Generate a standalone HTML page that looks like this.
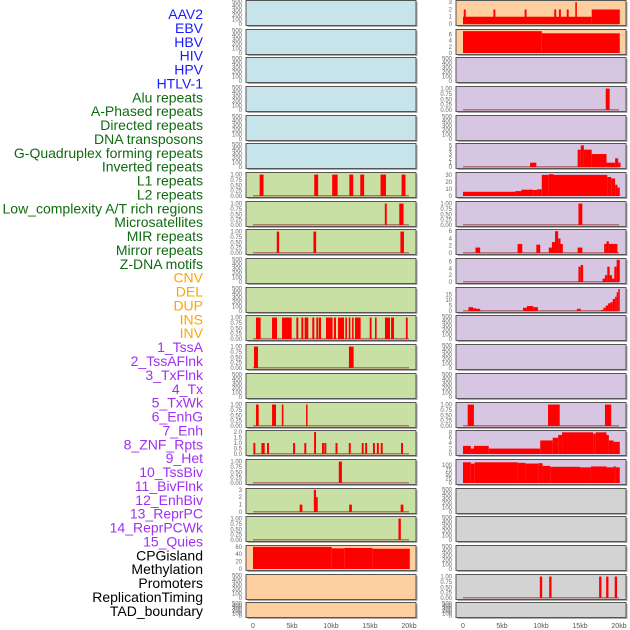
<!DOCTYPE html>
<html><head><meta charset="utf-8">
<style>
html,body{margin:0;padding:0;background:#fff;}
svg{display:block;font-family:"Liberation Sans",sans-serif;}
</style></head>
<body>
<svg id="chart" width="630" height="630" viewBox="0 0 630 630" xmlns="http://www.w3.org/2000/svg"></svg>
<script>
// ---- labels ----
const trackLabels = ["AAV2","EBV","HBV","HIV","HPV","HTLV-1","Alu repeats","A-Phased repeats","Directed repeats","DNA transposons","G-Quadruplex forming repeats","Inverted repeats","L1 repeats","L2 repeats","Low_complexity A/T rich regions","Microsatellites","MIR repeats","Mirror repeats","Z-DNA motifs","CNV","DEL","DUP","INS","INV","1_TssA","2_TssAFlnk","3_TxFlnk","4_Tx","5_TxWk","6_EnhG","7_Enh","8_ZNF_Rpts","9_Het","10_TssBiv","11_BivFlnk","12_EnhBiv","13_ReprPC","14_ReprPCWk","15_Quies","CPGisland","Methylation","Promoters","ReplicationTiming","TAD_boundary"];
const labelGroups = [6,13,5,15,5];
const xTickValues = [0,5,10,15,20];
const xTickLabels = ["0","5kb","10kb","15kb","20kb"];

// ---- left column data (kb) ----
const L6_starts = [0.85,7.85,10.15,12.35,13.75,16.35,19.05];
const L6_ends   = [1.35,8.35,10.85,12.85,14.25,17.05,19.55];
const L6_vals   = [1,1,1,1,1,1,1];
const L7_starts = [16.9,18.75];
const L7_ends   = [17.15,19.3];
const L7_vals   = [1,1];
const L8_starts = [3.05,7.75,18.9];
const L8_ends   = [3.35,8.1,19.35];
const L8_vals   = [1,1,1];
const L11_starts = [0.38,2.44,3.72,5.56,6.2,6.62,7.6,8.12,8.46,9.36,10.38,10.9,11.84,12.27,12.7,13.08,14.96,15.64,16.92,17.7,19.6];
const L11_ends   = [0.98,3.08,4.96,5.81,6.45,7.09,7.86,8.38,8.72,10.2,10.64,11.67,12.05,12.48,12.9,13.8,15.2,15.85,17.56,18.08,19.83];
const L11_vals   = [1,1,1,1,1,1,1,1,1,1,1,1,1,1,1,1,1,1,1,1,1];
const L12_starts = [0.13,12.3];
const L12_ends   = [0.64,12.9];
const L12_vals   = [1,1];
const L14_starts = [0.38,2.44,3.7,6.8];
const L14_ends   = [0.73,2.95,3.9,6.96];
const L14_vals   = [1,1,1,1];
const L15_starts = [0.05,1.08,1.25,1.8,5.14,6.58,7.83,8.85,9.15,10.58,12.28,13.94,14.38,15.38,15.88,16.38,18.98];
const L15_ends   = [0.3,1.32,1.5,2.05,5.4,6.83,8.08,9.1,9.4,10.83,12.53,14.19,14.63,15.63,16.13,16.63,19.23];
const L15_vals   = [1,1,1,1,1,1,2,1,1,1,1,1,1,1,1,1,1];
const L16_starts = [11.0];
const L16_ends   = [11.4];
const L16_vals   = [1];
const L17_starts = [5.98,7.8,8.08,12.33,18.93];
const L17_ends   = [6.33,8.08,8.3,12.68,19.28];
const L17_vals   = [1,3,2,1,1];
const L18_starts = [18.65];
const L18_ends   = [18.95];
const L18_vals   = [1];
const L19_starts = [0,10.1,11.7,15.3];
const L19_ends   = [10.1,11.7,15.3,20.1];
const L19_vals   = [60,56,57,55];

// ---- right column data (kb) ----
const R0_starts = [0,16.5,0.1,3.9,7.9,11.7,12.3,13.3,14.4];
const R0_ends   = [16.5,20.1,0.35,4.15,8.15,11.95,12.55,13.55,14.6];
const R0_vals   = [1,2,2,2,2,2,2,2,3];
const R1_starts = [0,10.1];
const R1_ends   = [10.1,20.1];
const R1_vals   = [7,6.3];
const R3_starts = [18.3];
const R3_ends   = [18.8];
const R3_vals   = [1];
const R5_starts = [8.6,14.7,15.1,15.5,16.5,18.4,19.5,19.9];
const R5_ends   = [9.4,15.1,15.5,16.5,18.4,19.5,19.9,20.2];
const R5_vals   = [1,4,5,4,3,1,2,1];
const R6_starts = [0,6.7,7.5,9,9.5,10.1,11,11.6,18.5,19,19.5,19.8];
const R6_ends   = [6.7,7.5,9,9.5,10.1,11,11.6,18.5,19,19.5,19.8,20.1];
const R6_vals   = [6,7,9,8.5,9.5,30,31,30,27,25,16,12];
const R7_starts = [14.8];
const R7_ends   = [15.3];
const R7_vals   = [1];
const R8_starts = [1.6,7,9.4,11,11.4,11.8,12.2,12.5,14.7,18.1,18.4,18.7];
const R8_ends   = [2.2,7.6,9.9,11.4,11.8,12.2,12.5,12.8,15.3,18.4,18.7,19.8];
const R8_vals   = [1.5,2.5,2.3,1.5,3,6,4,2.5,1.5,2.5,3.2,2.5];
const R9_starts = [14.8,15.1,17.9,18.2,18.5,18.8,19.1,19.4,19.7];
const R9_ends   = [15.1,15.4,18.2,18.5,18.8,19.1,19.4,19.7,20.1];
const R9_vals   = [4.5,5,1,2,4.5,2,1,4.5,6.5];
const R10_starts = [0.7,1.3,1.7,7.7,8.2,9,14.6,17.7,18,18.3,18.6,18.9,19.2,19.5,19.7,19.9];
const R10_ends   = [1.3,1.7,2.2,8.2,9,9.6,15.1,18,18.3,18.6,18.9,19.2,19.5,19.7,19.9,20.1];
const R10_vals   = [3.5,2.5,2,3,4.5,3.5,2,1,3,5,7,8,11,13,17,20];
const R14_starts = [0.6,10.9,18.2];
const R14_ends   = [1.4,12.4,19];
const R14_vals   = [1,1,1];
const R15_starts = [0,1,1.4,3.3,9.9,11.5,12.2,12.7,16.7,17,18.4,18.7,19.3];
const R15_ends   = [1,1.4,3.3,9.9,11.5,12.2,12.7,16.7,17,18.4,18.7,19.3,20.1];
const R15_vals   = [3,2,3,2,5,6,7,8,7.5,8,7,5,4.5];
const R16_starts = [0,1,1.5,7,8,9.7,10.2,11.2,15,16.4,18.4,19.3,19.6];
const R16_ends   = [1,1.5,7,8,9.7,10.2,11.2,15,16.4,18.4,19.3,19.6,20.1];
const R16_vals   = [115,108,115,112,108,110,95,90,87,92,87,92,87];
const R20_starts = [9.85,11.05,17.45,18.35,19.45];
const R20_ends   = [10.15,11.35,17.75,18.65,19.75];
const R20_vals   = [1,1,1,1,1];

const T_EMPTY = ["0","100","200","300","400","500"];
const T_UNIT = ["0.00","0.25","0.50","0.75","1.00"];

const C = {blue:"#c8e4eb",green:"#c9e0a5",orange:"#fecf9e",purple:"#d6c6e2",grey:"#d3d3d3"};
const leftBg = ["blue","blue","blue","blue","blue","blue","green","green","green","green","green","green","green","green","green","green","green","green","green","orange","orange","orange"];
const rightBg = ["orange","orange","purple","purple","purple","purple","purple","purple","purple","purple","purple","purple","purple","purple","purple","purple","purple","grey","grey","grey","grey","grey"];

function unit(s,e,v){return {s:s,e:e,v:v,ymax:1.05,ticks:[0,0.25,0.5,0.75,1],tl:T_UNIT};}
const leftData = {
 6:unit(L6_starts,L6_ends,L6_vals),7:unit(L7_starts,L7_ends,L7_vals),8:unit(L8_starts,L8_ends,L8_vals),
 11:unit(L11_starts,L11_ends,L11_vals),12:unit(L12_starts,L12_ends,L12_vals),14:unit(L14_starts,L14_ends,L14_vals),
 15:{s:L15_starts,e:L15_ends,v:L15_vals,ymax:2.05,ticks:[0,0.5,1,1.5,2],tl:["0.0","0.5","1.0","1.5","2.0"]},
 16:unit(L16_starts,L16_ends,L16_vals),
 17:{s:L17_starts,e:L17_ends,v:L17_vals,ymax:3.05,ticks:[0,1,2,3],tl:["0","1","2","3"]},
 18:unit(L18_starts,L18_ends,L18_vals),
 19:{s:L19_starts,e:L19_ends,v:L19_vals,ymax:61,ticks:[0,20,40,60],tl:["0","20","40","60"],nobase:true}
};
const rightData = {
 0:{s:R0_starts,e:R0_ends,v:R0_vals,ymax:3.1,ticks:[0,1,2,3],tl:["0","1","2","3"]},
 1:{s:R1_starts,e:R1_ends,v:R1_vals,ymax:7.2,ticks:[0,2,4,6],tl:["0","2","4","6"],nobase:true},
 3:unit(R3_starts,R3_ends,R3_vals),
 5:{s:R5_starts,e:R5_ends,v:R5_vals,ymax:5.2,ticks:[0,1,2,3,4,5],tl:["0","1","2","3","4","5"]},
 6:{s:R6_starts,e:R6_ends,v:R6_vals,ymax:32,ticks:[0,10,20,30],tl:["0","10","20","30"],nobase:true},
 7:unit(R7_starts,R7_ends,R7_vals),
 8:{s:R8_starts,e:R8_ends,v:R8_vals,ymax:6.2,ticks:[0,2,4,6],tl:["0","2","4","6"]},
 9:{s:R9_starts,e:R9_ends,v:R9_vals,ymax:6.6,ticks:[0,2,4,6],tl:["0","2","4","6"]},
 10:{s:R10_starts,e:R10_ends,v:R10_vals,ymax:20.5,ticks:[0,5,10,15],tl:["0","5","10","15"]},
 14:unit(R14_starts,R14_ends,R14_vals),
 15:{s:R15_starts,e:R15_ends,v:R15_vals,ymax:8.3,ticks:[0,2,4,6,8],tl:["0","2","4","6","8"],nobase:true},
 16:{s:R16_starts,e:R16_ends,v:R16_vals,ymax:125,ticks:[0,25,50,75,100],tl:["0","25","50","75","100"],nobase:true},
 20:unit(R20_starts,R20_ends,R20_vals)
};

const NS="http://www.w3.org/2000/svg";
const svg=document.getElementById('chart');
function mk(tag,attrs,parent){const el=document.createElementNS(NS,tag);for(const k in attrs)el.setAttribute(k,attrs[k]);(parent||svg).appendChild(el);return el;}

// labels
const groupColors=["#1a1aff","#106b10","#ffa500","#a030f0","#000000"];
let li=0;
labelGroups.forEach((n,gi)=>{for(let j=0;j<n;j++){
  const t=mk('text',{x:203,y:14+li*13.88+5,'text-anchor':'end','font-size':'14',fill:groupColors[gi]});
  
  
  t.textContent=trackLabels[li];li++;}});

const ROWS=22, PITCH=28.68;
const cols=[{left:246,zero:253,bg:leftBg,data:leftData,name:'left'},{left:456,zero:463,bg:rightBg,data:rightData,name:'right'}];
const PW=170, KB=7.8;
cols.forEach(col=>{
  function xs(kb){return col.zero+kb*KB;}
  for(let r=0;r<ROWS;r++){
    const top=Math.round(r*PITCH)+0.5, h=(r===ROWS-1)?15:25, bot=top+h;
    const g=mk('g',{});
    
    
    mk('rect',{x:col.left+1.5,y:top+1.5,width:PW,height:h,fill:'#aaa'},g);
    mk('rect',{x:col.left,y:top,width:PW,height:h,fill:C[col.bg[r]],stroke:'#555','stroke-width':1},g);
    const d=col.data[r];
    let ymax,ticks,tl;
    if(d){ymax=d.ymax;ticks=d.ticks;tl=d.tl;}else{ymax=500;ticks=[0,100,200,300,400,500];tl=T_EMPTY;}
    function ys(v){return (bot-1.5)-v/ymax*(h-2.5);}
    ticks.forEach((tv,i)=>{
      const t=mk('text',{x:col.left-4,y:ys(tv)+2,'text-anchor':'end','font-size':'6',fill:'#666'},g);
      
      
      t.textContent=tl[i];
    });
    if(d){
      if(!d.nobase){const b=mk('rect',{x:xs(0),y:bot-2.5,width:xs(20)-xs(0),height:1.5,fill:'rgba(150,40,40,0.55)'},g);
        }
      for(let i=0;i<d.s.length;i++){
        const x0=xs(d.s[i]),x1=xs(d.e[i]),y=ys(d.v[i]);
        const bar=mk('rect',{x:x0,y:y,width:Math.max(1.5,x1-x0),height:(bot-1.5)-y,fill:'#ff0000'},g);
        
        
      }
    }
  }
  xTickValues.forEach((v,i)=>{
    const t=mk('text',{x:xs(v),y:628,'text-anchor':'middle','font-size':'7',fill:'#555'});
    
    
    t.textContent=xTickLabels[i];
  });
});
</script>
</body></html>
